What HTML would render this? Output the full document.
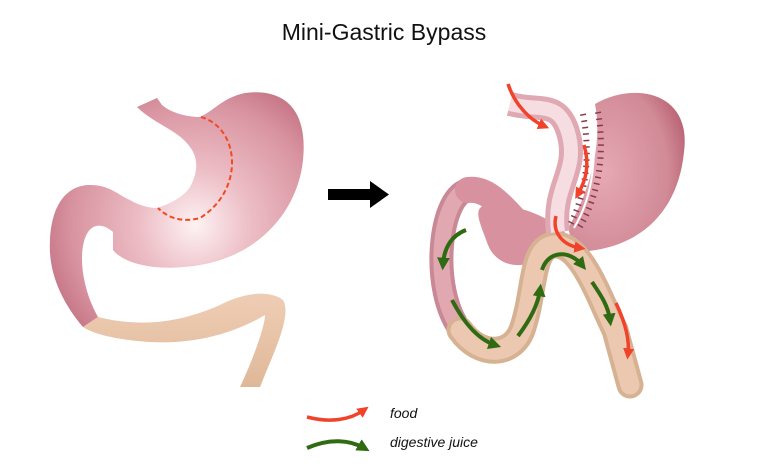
<!DOCTYPE html>
<html><head><style>
html,body{margin:0;padding:0;background:#fff;width:768px;height:469px;overflow:hidden}
svg{display:block}
</style></head><body>
<svg width="768" height="469" viewBox="0 0 768 469" xmlns="http://www.w3.org/2000/svg">
<defs>
<radialGradient id="st" gradientUnits="userSpaceOnUse" cx="195" cy="225" r="165">
<stop offset="0" stop-color="#fdf2f3"/><stop offset="0.35" stop-color="#ecbcc4"/><stop offset="0.75" stop-color="#d893a0"/><stop offset="1" stop-color="#c06c7d"/>
</radialGradient>
<radialGradient id="st2" cx="0.3" cy="0.5" r="0.8">
<stop offset="0" stop-color="#e6a9b3"/><stop offset="0.7" stop-color="#d18a97"/><stop offset="1" stop-color="#b45a6c"/>
</radialGradient>
<linearGradient id="bg" x1="0" y1="0" x2="0" y2="1"><stop offset="0" stop-color="#efcdb5"/><stop offset="1" stop-color="#dfb898"/></linearGradient>
<marker id="ar" viewBox="0 0 10 10" refX="5" refY="5" markerWidth="3.2" markerHeight="3.2" orient="auto"><path d="M0,0 L10,5 L0,10 Z" fill="#f0432a"/></marker>
<marker id="ag" viewBox="0 0 10 10" refX="5" refY="5" markerWidth="3.2" markerHeight="3.2" orient="auto"><path d="M0,0 L10,5 L0,10 Z" fill="#2f6b12"/></marker>
</defs>
<text x="384" y="40" text-anchor="middle" font-family="Liberation Sans, sans-serif" font-size="23" fill="#111">Mini-Gastric Bypass</text>

<!-- LEFT -->
<path d="M83,327 L98,317 C150,330 190,318 220,305 C245,292 270,290 283,300 C292,315 275,350 260,387 L240,387 C255,355 265,325 265,315 C240,330 200,345 150,342 C120,340 95,335 83,327Z" fill="url(#bg)"/>
<path d="M137,107 L157,98 L162,105 C170,112 185,117 200,117 C215,110 222,98 245,93 C285,88 308,110 303,160 C298,210 260,255 200,265 C160,272 125,265 113,250 L113,232 C105,225 95,222 88,232 C78,247 80,285 98,317 L83,327 C60,300 48,270 50,240 C52,200 70,185 90,185 C110,185 118,195 130,200 C140,206 150,208 157,208 C173,203 185,195 190,187 C198,172 198,160 192,150 C180,130 155,125 137,107Z" fill="url(#st)"/>
<path d="M201,117 C240,128 245,190 200,218 C185,222 170,220 158,208" fill="none" stroke="#f04a20" stroke-width="2" stroke-dasharray="5,3"/>

<!-- arrow -->
<rect x="328" y="189" width="44" height="11" fill="#000"/>
<path d="M370,181 L389,194.5 L370,208 Z" fill="#000"/>

<!-- RIGHT -->
<path d="M595,104 C632,82 692,90 684,152 C678,212 640,250 575,252 L568,228 C585,200 604,150 595,104Z" fill="url(#st2)"/>
<path d="M565,232 C545,272 500,275 488,245 C480,222 470,205 490,205 C520,205 545,215 565,232Z" fill="#d8919e"/>
<path d="M470,190 C440,190 428,290 462,332" fill="none" stroke="#c98896" stroke-width="24" stroke-linecap="round"/>
<path d="M470,190 C440,190 428,290 462,332" fill="none" stroke="#e2a8b2" stroke-width="16" stroke-linecap="round"/>
<path d="M545,240 C520,240 500,186 468,190" fill="none" stroke="#d8919e" stroke-width="26" stroke-linecap="round"/>
<path d="M460,330 C480,358 512,356 522,330 C536,290 530,245 556,245 C582,245 600,300 615,330 L630,385" fill="none" stroke="#d6b293" stroke-width="27" stroke-linecap="round"/>
<path d="M460,330 C480,358 512,356 522,330 C536,290 530,245 556,245 C582,245 600,300 615,330 L630,385" fill="none" stroke="#ecc8b0" stroke-width="19" stroke-linecap="round"/>
<path d="M510,104 C540,112 558,100 568,132 C580,172 552,185 558,232" fill="none" stroke="#e0a8b2" stroke-width="24" stroke-linecap="butt"/>
<path d="M510,104 C540,112 558,100 568,132 C580,172 552,185 558,232" fill="none" stroke="#f5dde1" stroke-width="14"/>
<path d="M583,114 C590,150 588,190 570,225" fill="none" stroke="#8a3a4c" stroke-width="6" stroke-dasharray="1.5,5"/>
<path d="M598,112 C605,150 600,195 578,230" fill="none" stroke="#8a3a4c" stroke-width="6" stroke-dasharray="1.5,5"/>
<path d="M590,112 C598,150 594,195 574,228" fill="none" stroke="#fff" stroke-width="2"/>

<!-- red arrows -->
<g fill="none" stroke="#f0432a" stroke-width="3.5">
<path d="M508,84 C515,105 530,120 544,126" marker-end="url(#ar)"/>
<path d="M584,145 C590,165 586,180 578,194" marker-end="url(#ar)"/>
<path d="M556,216 C552,232 562,245 580,248" marker-end="url(#ar)"/>
<path d="M616,303 C624,320 630,338 628,354" marker-end="url(#ar)"/>
<path d="M307,417 C330,423 350,420 364,410" marker-end="url(#ar)"/>
</g>
<!-- green arrows -->
<g fill="none" stroke="#2f6b12" stroke-width="4">
<path d="M466,230 C450,236 444,250 443,264" marker-end="url(#ag)"/>
<path d="M452,300 C465,325 480,340 495,345" marker-end="url(#ag)"/>
<path d="M518,336 C530,320 538,305 540,290" marker-end="url(#ag)"/>
<path d="M542,270 C548,250 570,250 582,265" marker-end="url(#ag)"/>
<path d="M592,282 C600,294 608,305 610,320" marker-end="url(#ag)"/>
<path d="M307,448 C330,438 350,440 364,448" marker-end="url(#ag)"/>
</g>
<text x="390" y="418" font-family="Liberation Sans, sans-serif" font-style="italic" font-size="14" fill="#111">food</text>
<text x="390" y="447" font-family="Liberation Sans, sans-serif" font-style="italic" font-size="14" fill="#111">digestive juice</text>
</svg>
</body></html>
